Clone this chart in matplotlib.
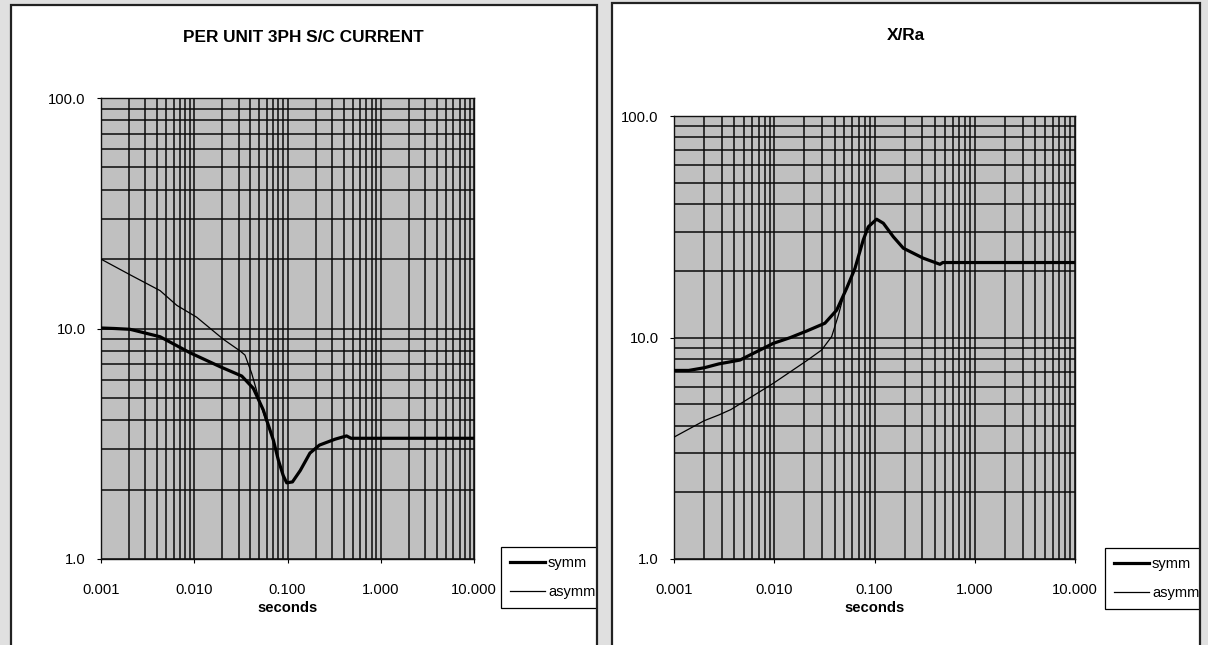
import matplotlib
matplotlib.use("Agg")
import matplotlib.pyplot as plt
from matplotlib.patches import Rectangle
from matplotlib.ticker import LogLocator, FormatStrFormatter, NullFormatter

plt.rcParams['font.family'] = ['Liberation Sans', 'DejaVu Sans']

# --- per unit 3ph s/c current ---
cur_symm_t = [0.001, 0.0014, 0.00205, 0.0043, 0.009, 0.0189, 0.0323, 0.043, 0.055,
              0.0705, 0.0797, 0.09, 0.098, 0.113, 0.137, 0.174, 0.22, 0.324, 0.43,
              0.48, 10.0]
cur_symm = [10.05, 10.0, 9.92, 9.21, 7.85, 6.83, 6.22, 5.50, 4.43,
            3.28, 2.69, 2.3, 2.14, 2.16, 2.42, 2.88, 3.12, 3.31, 3.42,
            3.34, 3.34]
cur_asymm_t = [0.001, 0.00205, 0.0043, 0.0065, 0.0106, 0.0205, 0.031, 0.035, 0.0413,
               0.0487, 0.0574, 0.0705, 0.0797, 0.09, 0.098, 0.113, 0.137, 0.174,
               0.22, 0.324, 0.43, 0.48, 10.0]
cur_asymm = [20.0, 17.1, 14.6, 12.6, 11.2, 8.98, 7.99, 7.67, 6.39,
             5.06, 4.1, 3.28, 2.69, 2.3, 2.14, 2.16, 2.42, 2.88,
             3.12, 3.31, 3.42, 3.34, 3.34]

# --- X/Ra ---
xr_symm_t = [0.001, 0.0014, 0.002, 0.0028, 0.00455, 0.00978, 0.01436, 0.0211, 0.032,
             0.042, 0.0528, 0.0638, 0.0773, 0.0867, 0.105, 0.1225, 0.154, 0.194,
             0.307, 0.45, 0.48, 10.0]
xr_symm = [7.1, 7.1, 7.3, 7.6, 7.91, 9.41, 9.98, 10.7, 11.6,
           13.3, 16.7, 20.5, 27.6, 31.6, 34.2, 32.8, 28.5, 25.3,
           22.8, 21.4, 21.8, 21.8]
xr_asymm_t = [0.001, 0.002, 0.0028, 0.0037, 0.00455, 0.00978, 0.0211, 0.0297, 0.0374,
              0.0436, 0.0489, 0.0638, 0.0773, 0.0867, 0.105, 0.1225, 0.154, 0.194,
              0.307, 0.45, 0.48, 10.0]
xr_asymm = [3.55, 4.21, 4.47, 4.73, 5.01, 6.21, 7.86, 8.78, 10.1,
            12.6, 15.3, 20.5, 27.6, 31.6, 34.2, 32.8, 28.5, 25.3,
            22.8, 21.4, 21.8, 21.8]

W, H = 1208, 645
BG = '#e0e0e0'
fig = plt.figure(figsize=(W / 100, H / 100), dpi=100)
fig.patch.set_facecolor(BG)


def px(x0, y0, x1, y1):
    # pixel box (from top-left) -> figure fraction rect
    return [x0 / W, 1 - y1 / H, (x1 - x0) / W, (y1 - y0) / H]


def panel(frame, gap, axbox, title, title_xy, leg_xy, t_s, v_s, t_a, v_a):
    x0, x1, top = frame
    box = dict(xy=(x0 / W, -0.05), width=(x1 - x0) / W, height=1.05 - top / H,
               transform=fig.transFigure)
    fig.patches.append(Rectangle(facecolor='white', edgecolor='none', zorder=-5, **box))
    # cover whatever sticks out right of the frame (the legend gets cut there)
    fig.patches.append(Rectangle((x1 / W, -0.05), gap / W, 1.1, transform=fig.transFigure,
                                 facecolor=BG, edgecolor='none', zorder=15))
    fig.patches.append(Rectangle(facecolor='none', edgecolor='#222222', lw=1.6, zorder=20, **box))

    ax = fig.add_axes(px(*axbox))
    ax.set_facecolor('#c0c0c0')
    ax.set_xscale('log')
    ax.set_yscale('log')
    ax.set_xlim(0.001, 10)
    ax.set_ylim(1, 100)
    ax.xaxis.set_minor_locator(LogLocator(base=10, subs=range(2, 10), numticks=50))
    ax.yaxis.set_minor_locator(LogLocator(base=10, subs=range(2, 10), numticks=50))
    ax.xaxis.set_major_formatter(FormatStrFormatter('%.3f'))
    ax.yaxis.set_major_formatter(FormatStrFormatter('%.1f'))
    ax.xaxis.set_minor_formatter(NullFormatter())
    ax.yaxis.set_minor_formatter(NullFormatter())
    ax.grid(which='both', color='#0a0a0a', lw=1.1)
    ax.tick_params(which='major', direction='out', length=3, width=0.8, labelsize=10.6)
    ax.tick_params(axis='x', which='major', pad=14)
    ax.tick_params(axis='y', which='major', pad=8)
    ax.tick_params(which='minor', length=0)
    for s in ax.spines.values():
        s.set_color('#111111')
        s.set_linewidth(1.0)
    l1, = ax.plot(t_s, v_s, color='black', lw=2.3, label='symm', zorder=4)
    l2, = ax.plot(t_a, v_a, color='black', lw=0.9, label='asymm', zorder=3)
    ax.set_xlabel('seconds', fontsize=10.6, fontweight='bold', va='center')
    ax.xaxis.set_label_coords(0.5, -(608 - axbox[3]) / (axbox[3] - axbox[1]))
    fig.text(title_xy[0] / W, 1 - title_xy[1] / H, title, ha='center', va='center',
             fontsize=12.4, fontweight='bold')
    leg = fig.legend([l1, l2], ['symm', 'asymm'], loc='lower left',
                     bbox_to_anchor=(leg_xy[0] / W, 1 - leg_xy[1] / H),
                     frameon=True, fancybox=False, framealpha=1, edgecolor='black',
                     fontsize=10.5, handlelength=2.4, handletextpad=0.22,
                     borderpad=0.6, labelspacing=1.07, borderaxespad=0)
    leg.get_frame().set_linewidth(0.9)
    return ax


panel((11, 597, 5), 14, (101, 98, 474, 559), 'PER UNIT 3PH S/C CURRENT', (303, 37),
      (501, 608), cur_symm_t, cur_symm, cur_asymm_t, cur_asymm)
panel((612, 1200, 3), 8, (674, 116, 1075, 559), 'X/Ra', (906, 35),
      (1105, 609), xr_symm_t, xr_symm, xr_asymm_t, xr_asymm)

fig.savefig('out.png', dpi=100, facecolor=fig.get_facecolor())
